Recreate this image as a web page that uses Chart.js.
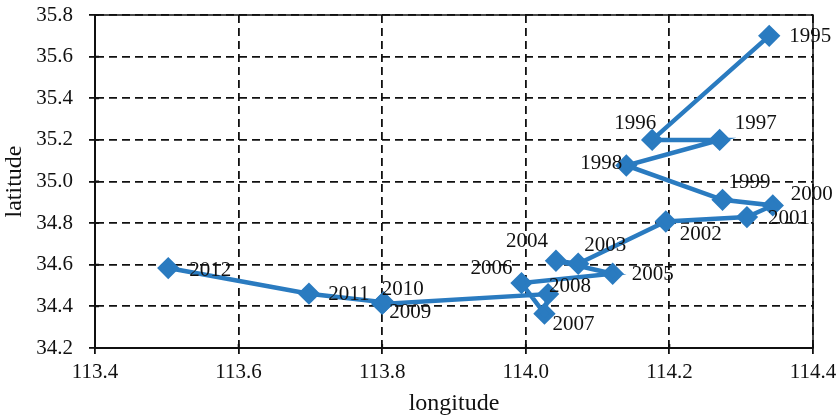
<!DOCTYPE html>
<html>
<head>
<meta charset="utf-8">
<script src="https://cdn.jsdelivr.net/npm/chart.js@4.4.0/dist/chart.umd.min.js"></script>
<style>
  html, body { margin: 0; padding: 0; background: #fff; }
  #wrap { width: 837px; height: 418px; }
</style>
</head>
<body>
<div id="wrap"><canvas id="myChart" width="837" height="418"></canvas></div>
<script>
"use strict";

// Years (point labels) and the coordinates
const years = ["1995", "1996", "1997", "1998", "1999", "2000", "2001", "2002", "2003",
  "2004", "2005", "2006", "2007", "2008", "2009", "2010", "2011", "2012"];
const longitude = [114.339, 114.176, 114.270, 114.140, 114.274, 114.344, 114.308, 114.195, 114.073,
  114.042, 114.121, 113.994, 114.026, 114.031, 113.800, 113.802, 113.698, 113.502];
const latitude = [35.70, 35.20, 35.20, 35.077, 34.912, 34.885, 34.829, 34.808, 34.605,
  34.619, 34.557, 34.512, 34.365, 34.459, 34.412, 34.420, 34.461, 34.584];

// Axis ticks
const xTicks = [113.4, 113.6, 113.8, 114.0, 114.2, 114.4];
const yTicks = [34.2, 34.4, 34.6, 34.8, 35.0, 35.2, 35.4, 35.6, 35.8];

// Where each year label sits relative to its point (pixels, label centre)
const labelOffsets = [[41, 1], [-17, -16], [36, -16], [-25, -2], [27, -17], [39, -11], [42, 1],
  [35, 13], [27, -18], [-29, -19], [40, 1], [-30, -15], [29, 11], [22, -8], [28, 9], [19, -13],
  [40, 1], [42, 2]];

const blue = "#2a7bc0";
const ink = "#111";
const serif = "'Liberation Serif', 'Times New Roman', serif";

const points = longitude.map((x, i) => ({ x: x, y: latitude[i] }));

// Solid frame round the plot area + the inner half of the tick marks
const framePlugin = {
  id: "frame",
  beforeDatasetsDraw(chart) {
    const a = chart.chartArea;
    const c = chart.ctx;
    c.save();
    c.strokeStyle = ink;
    c.setLineDash([]);
    c.lineWidth = 1.5;
    c.strokeRect(a.left, a.top, a.right - a.left, a.bottom - a.top);
    c.lineWidth = 1.8;
    c.beginPath();
    yTicks.forEach(v => {
      const py = chart.scales.y.getPixelForValue(v);
      c.moveTo(a.left, py);
      c.lineTo(a.left + 4, py);
    });
    xTicks.forEach(v => {
      const px = chart.scales.x.getPixelForValue(v);
      c.moveTo(px, a.bottom);
      c.lineTo(px, a.bottom - 4);
    });
    c.stroke();
    c.restore();
  }
};

// Year labels next to the points
const yearLabels = {
  id: "yearLabels",
  afterDatasetsDraw(chart) {
    const c = chart.ctx;
    const meta = chart.getDatasetMeta(0);
    c.save();
    c.font = "21px " + serif;
    c.fillStyle = ink;
    c.textAlign = "center";
    c.textBaseline = "middle";
    meta.data.forEach((pt, i) => {
      const off = labelOffsets[i];
      c.fillText(years[i], pt.x + off[0], pt.y + off[1]);
    });
    c.restore();
  }
};

const ctx = document.getElementById("myChart");

new Chart(ctx, {
  type: "scatter",
  data: {
    datasets: [{
      data: points,
      showLine: true,
      borderColor: blue,
      backgroundColor: blue,
      borderWidth: 4.5,
      pointStyle: "rectRot",
      pointRadius: 8,
      pointHoverRadius: 8,
      tension: 0
    }]
  },
  options: {
    responsive: false,
    animation: false,
    events: [],
    layout: { padding: { left: 0, top: 15, right: 24, bottom: 0 } },
    plugins: {
      legend: { display: false },
      tooltip: { enabled: false }
    },
    scales: {
      x: {
        type: "linear",
        min: xTicks[0],
        max: xTicks[xTicks.length - 1],
        afterBuildTicks: (scale) => { scale.ticks = xTicks.map(v => ({ value: v })); },
        afterFit: (scale) => {
          scale.height = 70;
          scale.paddingLeft = 0;
          scale.paddingRight = 0;
        },
        ticks: {
          font: { family: serif, size: 21 },
          color: ink,
          padding: 6,
          maxRotation: 0,
          callback: (v) => Number(v).toFixed(1)
        },
        grid: { color: ink, lineWidth: 1.8, tickLength: 6, tickWidth: 1.8 },
        border: { color: ink, width: 2, dash: [8, 5] },
        title: {
          display: true,
          text: "longitude",
          font: { family: serif, size: 24 },
          color: ink,
          padding: { top: 0, bottom: 0 }
        }
      },
      y: {
        type: "linear",
        min: yTicks[0],
        max: yTicks[yTicks.length - 1],
        afterBuildTicks: (scale) => { scale.ticks = yTicks.map(v => ({ value: v })); },
        afterFit: (scale) => {
          scale.width = 95;
          scale.paddingTop = 0;
          scale.paddingBottom = 0;
        },
        ticks: {
          font: { family: serif, size: 21 },
          color: ink,
          padding: 16,
          callback: (v) => Number(v).toFixed(1)
        },
        grid: { color: ink, lineWidth: 1.8, tickLength: 6, tickWidth: 1.8 },
        border: { color: ink, width: 2, dash: [8, 5] },
        title: {
          display: true,
          text: "latitude",
          font: { family: serif, size: 24 },
          color: ink,
          padding: { top: 0, bottom: 0 }
        }
      }
    }
  },
  plugins: [framePlugin, yearLabels]
});
</script>
</body>
</html>
